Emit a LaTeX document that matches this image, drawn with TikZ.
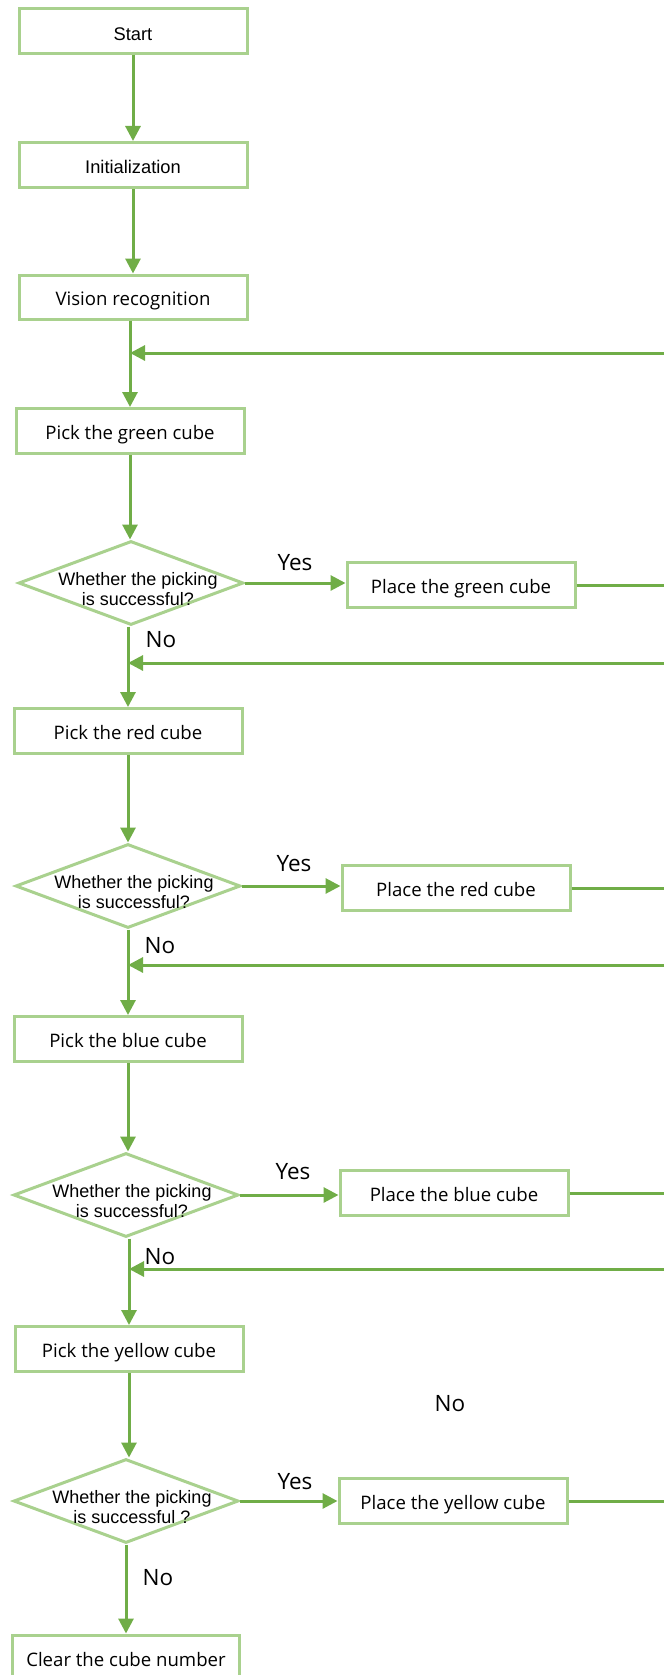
\documentclass[tikz,border=0pt]{standalone}
\usepackage{fontspec}
\setmainfont{Open Sans}
\newfontfamily\arialf{Liberation Sans}
\usetikzlibrary{arrows.meta,shapes.geometric}
\definecolor{boxgreen}{HTML}{A9D18E}
\definecolor{arrowgreen}{HTML}{70AD47}

\begin{document}
\begin{tikzpicture}[x=1pt,y=-1pt,
  stepbox/.style={draw=boxgreen, line width=3pt, fill=white, minimum width=228pt,
    minimum height=45pt, inner sep=0pt, text height=16.3pt, text depth=0pt,
    font=\fontsize{18.6}{22}\selectfont},
  arialbox/.style={stepbox, text height=17.5pt, font=\arialf\fontsize{18.3}{20}\selectfont},
  decision/.style={diamond, draw=boxgreen, line width=3pt, fill=white,
    minimum width=225pt, minimum height=84pt, inner sep=0pt},
  dtext/.style={align=center, inner sep=0pt, font=\arialf\fontsize{18}{19.5}\selectfont},
  flow/.style={draw=arrowgreen, line width=3pt,
    -{Triangle[length=15pt,width=15pt]}},
  plain/.style={draw=arrowgreen, line width=3pt},
  answer/.style={inner sep=0pt, font=\fontsize{22.5}{25}\selectfont}
]
\useasboundingbox (0,0) rectangle (664,1675);

% main column
\node[arialbox, text height=19pt] (start) at (133,31) {Start};
\node[arialbox] (init) at (133,165) {Initialization};
\node[stepbox, minimum height=44pt] (vis) at (133,297) {Vision recognition};

\node[stepbox] (pg) at (130,431) {Pick the green cube};
\node[decision] (d1) at (131,583) {};
\node[dtext] (d1t) at (138,589) {Whether the picking\\is successful?};

\node[stepbox] (pr) at (128,731) {Pick the red cube};
\node[decision] (d2) at (128,886) {};
\node[dtext] (d2t) at (134,892) {Whether the picking\\is successful?};

\node[stepbox] (pb) at (128,1039) {Pick the blue cube};
\node[decision] (d3) at (126,1195) {};
\node[dtext] (d3t) at (132,1201) {Whether the picking\\is successful?};

\node[stepbox] (py) at (129,1349) {Pick the yellow cube};
\node[decision] (d4) at (126,1501) {};
\node[dtext] (d4t) at (132,1507) {Whether the picking\\is successful ?};

\node[stepbox, minimum width=227pt, minimum height=46pt] (clr) at (126,1658) {Clear the cube number};

% place boxes
\node[stepbox] (plg) at (461,585) {Place the green cube};
\node[stepbox] (plr) at (456,888) {Place the red cube};
\node[stepbox] (plb) at (454,1193) {Place the blue cube};
\node[stepbox] (ply) at (453,1501) {Place the yellow cube};

% return lines entering from the right
\coordinate (fb1) at (664,353);
\coordinate (fb2) at (664,663);
\coordinate (fb3) at (664,965);
\coordinate (fb4) at (664,1269);

% answers
\node[answer] (yes1) at (295,563) {Yes};
\node[answer] (no1) at (161,640) {No};
\node[answer] (yes2) at (294,864) {Yes};
\node[answer] (no2) at (160,946) {No};
\node[answer] (yes3) at (293,1172) {Yes};
\node[answer] (no3) at (160,1257) {No};
\node[answer] (nox) at (450,1404) {No};
\node[answer] (yes4) at (295,1482) {Yes};
\node[answer] (no4) at (158,1578) {No};

% vertical flow
\draw[flow] (start) -- (init);
\draw[flow] (init) -- (vis);
\draw[flow] (pg.north |- vis.south) -- (pg.north);
\draw[flow] (pg.south) -- (pg.south |- d1.north);
\draw[flow] (pr.north |- d1.south) -- (pr.north);
\draw[flow] (pr.south) -- (pr.south |- d2.north);
\draw[flow] (pb.north |- d2.south) -- (pb.north);
\draw[flow] (pb.south) -- (pb.south |- d3.north);
\draw[flow] (py.north |- d3.south) -- (py.north);
\draw[flow] (py.south) -- (py.south |- d4.north);
\draw[flow] (d4.south) -- (d4.south |- clr.north);

% yes branches
\draw[flow] (d1.east) -- (d1.east -| plg.west);
\draw[flow] (d2.east) -- (d2.east -| plr.west);
\draw[flow] (d3.east) -- (d3.east -| plb.west);
\draw[flow] (d4.east) -- (d4.east -| ply.west);
\draw[plain] (plg.east) -- (plg.east -| fb1);
\draw[plain] (plr.east) -- (plr.east -| fb1);
\draw[plain] (plb.east) -- (plb.east -| fb1);
\draw[plain] (ply.east) -- (ply.east -| fb1);

% returns
\draw[flow] (fb1) -- (fb1 -| pg.north);
\draw[flow] (fb2) -- (fb2 -| pr.north);
\draw[flow] (fb3) -- (fb3 -| pb.north);
\draw[flow] (fb4) -- (fb4 -| py.north);
\end{tikzpicture}
\end{document}
